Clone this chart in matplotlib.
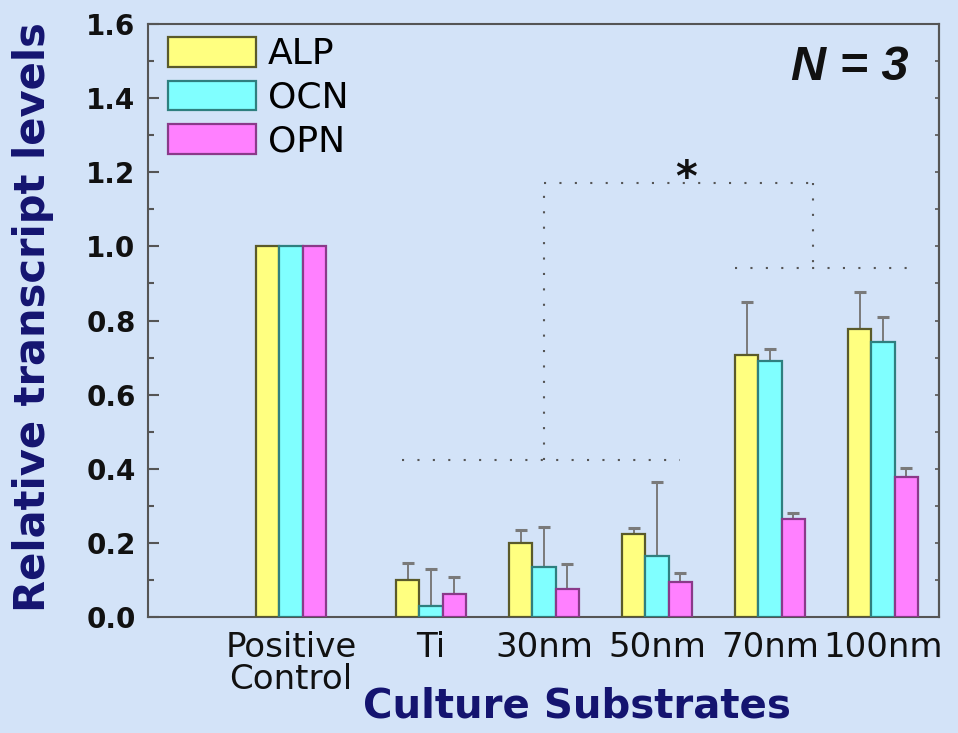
import numpy as np
import matplotlib
matplotlib.use("Agg")
import matplotlib.pyplot as plt
from matplotlib.ticker import MultipleLocator

# data
groups = ["Positive\nControl", "Ti", "30nm", "50nm", "70nm", "100nm"]
positions = [0, 1.24, 2.24, 3.24, 4.24, 5.24]
alp = [1.0, 0.100, 0.200, 0.224, 0.708, 0.778]
alp_err = [0, 0.046, 0.035, 0.017, 0.143, 0.098]
ocn = [1.0, 0.030, 0.135, 0.165, 0.692, 0.743]
ocn_err = [0, 0.100, 0.108, 0.200, 0.032, 0.067]
opn = [1.0, 0.062, 0.076, 0.095, 0.265, 0.378]
opn_err = [0, 0.046, 0.067, 0.023, 0.016, 0.025]
series = ["ALP", "OCN", "OPN"]

bg = "#d3e3f8"
face = ["#ffff80", "#80ffff", "#ff80ff"]
edge = ["#5a5a2a", "#2f7f7f", "#8a3a8a"]

fig = plt.figure(figsize=(9.58, 7.33), dpi=100, facecolor=bg)
ax = fig.add_axes([148 / 958, 116 / 733, 791 / 958, 593 / 733], facecolor=bg)

x = np.array(positions)
w = 0.205
for i, (vals, errs) in enumerate([(alp, alp_err), (ocn, ocn_err), (opn, opn_err)]):
    xs = x + (i - 1) * w
    ax.bar(xs, vals, w, color=face[i], edgecolor=edge[i], linewidth=1.6,
           label=series[i], zorder=3)
    v = np.array(vals[1:])
    e = np.array(errs[1:])
    _, caps, lines = ax.errorbar(xs[1:], v, yerr=[np.zeros_like(e), e], fmt="none",
                                 ecolor="#7a7a7a", elinewidth=1.4, capsize=4,
                                 capthick=2.2, zorder=2)
    for c in caps:
        c.set_color("#4a4a4a")

# significance brackets
dot = dict(color="#555555", linewidth=1.5, linestyle=(0, (1, 6.4)), zorder=1)
lo, hi, mid = 0.424, 1.17, 0.943
ax.plot([0.98, 3.44], [lo, lo], **dot)
ax.plot([positions[2], positions[2]], [lo, hi], **dot)
ax.plot([positions[2], 4.62], [hi, hi], **dot)
ax.plot([4.62, 4.62], [hi, mid], **dot)
ax.plot([3.93, 5.45], [mid, mid], **dot)
ax.text(3.50, 1.15, "*", fontsize=30, fontweight="bold", ha="center",
        va="baseline", color="#111111")

ax.text(0.961, 0.906, "N = 3", transform=ax.transAxes, fontsize=35,
        fontweight="bold", style="italic", family="Liberation Sans",
        ha="right", va="baseline", color="#111111")

ax.set_xlim(-1.265, 5.735)
ax.set_ylim(0, 1.6)
ax.set_xticks(positions)
ax.set_xticklabels(groups, fontsize=24.5, color="#111111", linespacing=0.95)
ax.tick_params(axis="x", length=0, pad=10)

ax.yaxis.set_major_locator(MultipleLocator(0.2))
ax.yaxis.set_minor_locator(MultipleLocator(0.1))
ax.set_yticks(np.arange(0, 1.61, 0.2))
ax.set_yticklabels([f"{t:.1f}" for t in np.arange(0, 1.61, 0.2)],
                   fontsize=20, fontweight="bold", color="#111111")
ax.tick_params(axis="y", which="major", direction="in", length=8, width=1.5,
               color="#555555", pad=9)
ax.tick_params(axis="y", which="minor", direction="in", length=4, width=1.5,
               color="#555555")

sec = ax.secondary_yaxis("right")
sec.yaxis.set_major_locator(MultipleLocator(0.1))
sec.tick_params(direction="in", length=3, width=1.2, color="#555555",
                labelright=False)
sec.spines["right"].set_color("#555555")
sec.spines["right"].set_linewidth(1.5)

for s in ax.spines.values():
    s.set_color("#555555")
    s.set_linewidth(1.5)

ax.set_ylabel("Relative transcript levels", fontsize=30, fontweight="bold",
              color="#141470", va="center")
ax.yaxis.set_label_coords(-0.145, 0.505)
ax.set_xlabel("Culture Substrates", fontsize=29, fontweight="bold",
              color="#141470", va="top")
ax.xaxis.set_label_coords((577 - 148) / 791, -0.118)

ax.legend(loc="upper left", bbox_to_anchor=(0.025, 0.978), frameon=False,
          fontsize=26, handlelength=2.45, handleheight=0.9,
          handletextpad=0.33, labelspacing=0.25, borderpad=0, borderaxespad=0)

fig.savefig("out.png", dpi=100, facecolor=bg)
